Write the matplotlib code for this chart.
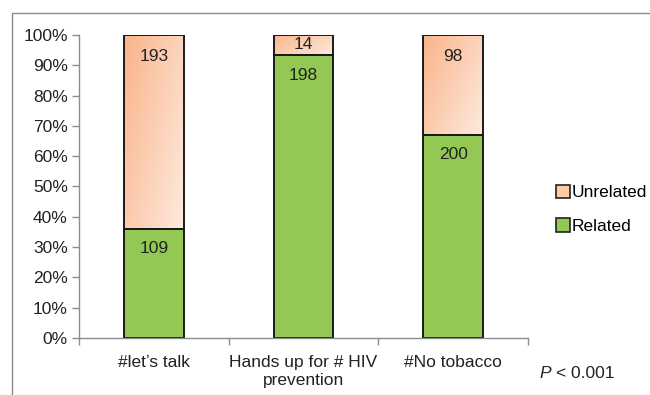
import matplotlib as mpl
mpl.use("Agg")
import matplotlib.pyplot as plt
import numpy as np
from matplotlib.colors import LinearSegmentedColormap
from matplotlib.lines import Line2D
from matplotlib.patches import Patch

categories = ["#let’s talk", "Hands up for # HIV\nprevention", "#No tobacco"]
related = [109, 198, 200]
unrelated = [193, 14, 98]
y_ticks = [0, 10, 20, 30, 40, 50, 60, 70, 80, 90, 100]

GREEN = "#92C853"
PEACH_DARK = "#F9B48A"
PEACH_LIGHT = "#FEEADE"
AXIS_GRAY = "#8C8C8C"
TEXT = "#222222"

plt.rcParams["font.family"] = ["Liberation Sans", "DejaVu Sans"]
plt.rcParams["font.size"] = 12.5

related = np.asarray(related, dtype=float)
unrelated = np.asarray(unrelated, dtype=float)
totals = related + unrelated
rel_pct = related / totals * 100
unrel_pct = unrelated / totals * 100

fig = plt.figure(figsize=(6.5, 3.95), dpi=100)
ax = fig.add_axes([0.1215, 0.1443, 0.6908, 0.7671])

x = np.arange(len(categories))
width = 0.4

ax.bar(x, rel_pct, width, color=GREEN, edgecolor="#1a1a1a", linewidth=1.4,
       label="Related", zorder=2)
tops = ax.bar(x, unrel_pct, width, bottom=rel_pct, color="none",
              edgecolor="#1a1a1a", linewidth=1.4, zorder=3)

# peach gradient (dark top-left -> light bottom-right) clipped to each upper segment
peach = LinearSegmentedColormap.from_list("peach", [PEACH_DARK, PEACH_LIGHT])
gy, gx = np.mgrid[0:1:64j, 0:1:64j]
grad = 0.6 * gx + 0.4 * gy
for rect in tops:
    x0, y0 = rect.get_x(), rect.get_y()
    im = ax.imshow(grad, cmap=peach, aspect="auto", origin="upper",
                   extent=[x0, x0 + rect.get_width(), y0, y0 + rect.get_height()],
                   zorder=1.5, interpolation="bilinear")
    im.set_clip_path(rect)

ax.set_xlim(-0.5, 2.5)
ax.set_ylim(0, 100)

for i in range(len(categories)):
    ax.text(x[i], rel_pct[i] - 6.6, f"{int(related[i])}", ha="center", va="center",
            color=TEXT, zorder=4)
    top_off = 7.2 if unrel_pct[i] > 10 else 3.0
    ax.text(x[i], 100 - top_off, f"{int(unrelated[i])}", ha="center", va="center",
            color=TEXT, zorder=4)

ax.set_yticks(y_ticks)
ax.set_yticklabels([f"{v}%" for v in y_ticks])
ax.set_xticks(x)
ax.set_xticklabels(categories, linespacing=1.3)
ax.set_xticks([-0.5, 0.5, 1.5, 2.5], minor=True)
ax.tick_params(axis="x", which="major", length=0, pad=12, colors=TEXT)
ax.tick_params(axis="x", which="minor", length=5, width=1, color=AXIS_GRAY)
ax.tick_params(axis="y", length=5, width=1, color=AXIS_GRAY, pad=3, labelcolor=TEXT)

for side in ("top", "right"):
    ax.spines[side].set_visible(False)
for side in ("left", "bottom"):
    ax.spines[side].set_color(AXIS_GRAY)
    ax.spines[side].set_linewidth(1)

handles = [Patch(facecolor="#FCCBAA", edgecolor=TEXT, linewidth=1.2, label="Unrelated"),
           Patch(facecolor=GREEN, edgecolor=TEXT, linewidth=1.2, label="Related")]
fig.legend(handles=handles, loc="center left", bbox_to_anchor=(0.855, 0.47),
           frameon=False, handlelength=0.8, handleheight=0.8, handletextpad=0.1,
           labelspacing=1.05, borderaxespad=0, borderpad=0)

fig.text(539 / 650, 0.043, "P", style="italic", va="baseline", color=TEXT)
fig.text(556 / 650, 0.043, "< 0.001", va="baseline", color=TEXT)

# outer frame, open to the right and bottom
fig.add_artist(Line2D([12 / 650, 12 / 650, 1.0], [0.0, 1 - 13 / 395, 1 - 13 / 395],
                      transform=fig.transFigure, color=AXIS_GRAY, linewidth=1))

fig.savefig("out.png", dpi=100)
